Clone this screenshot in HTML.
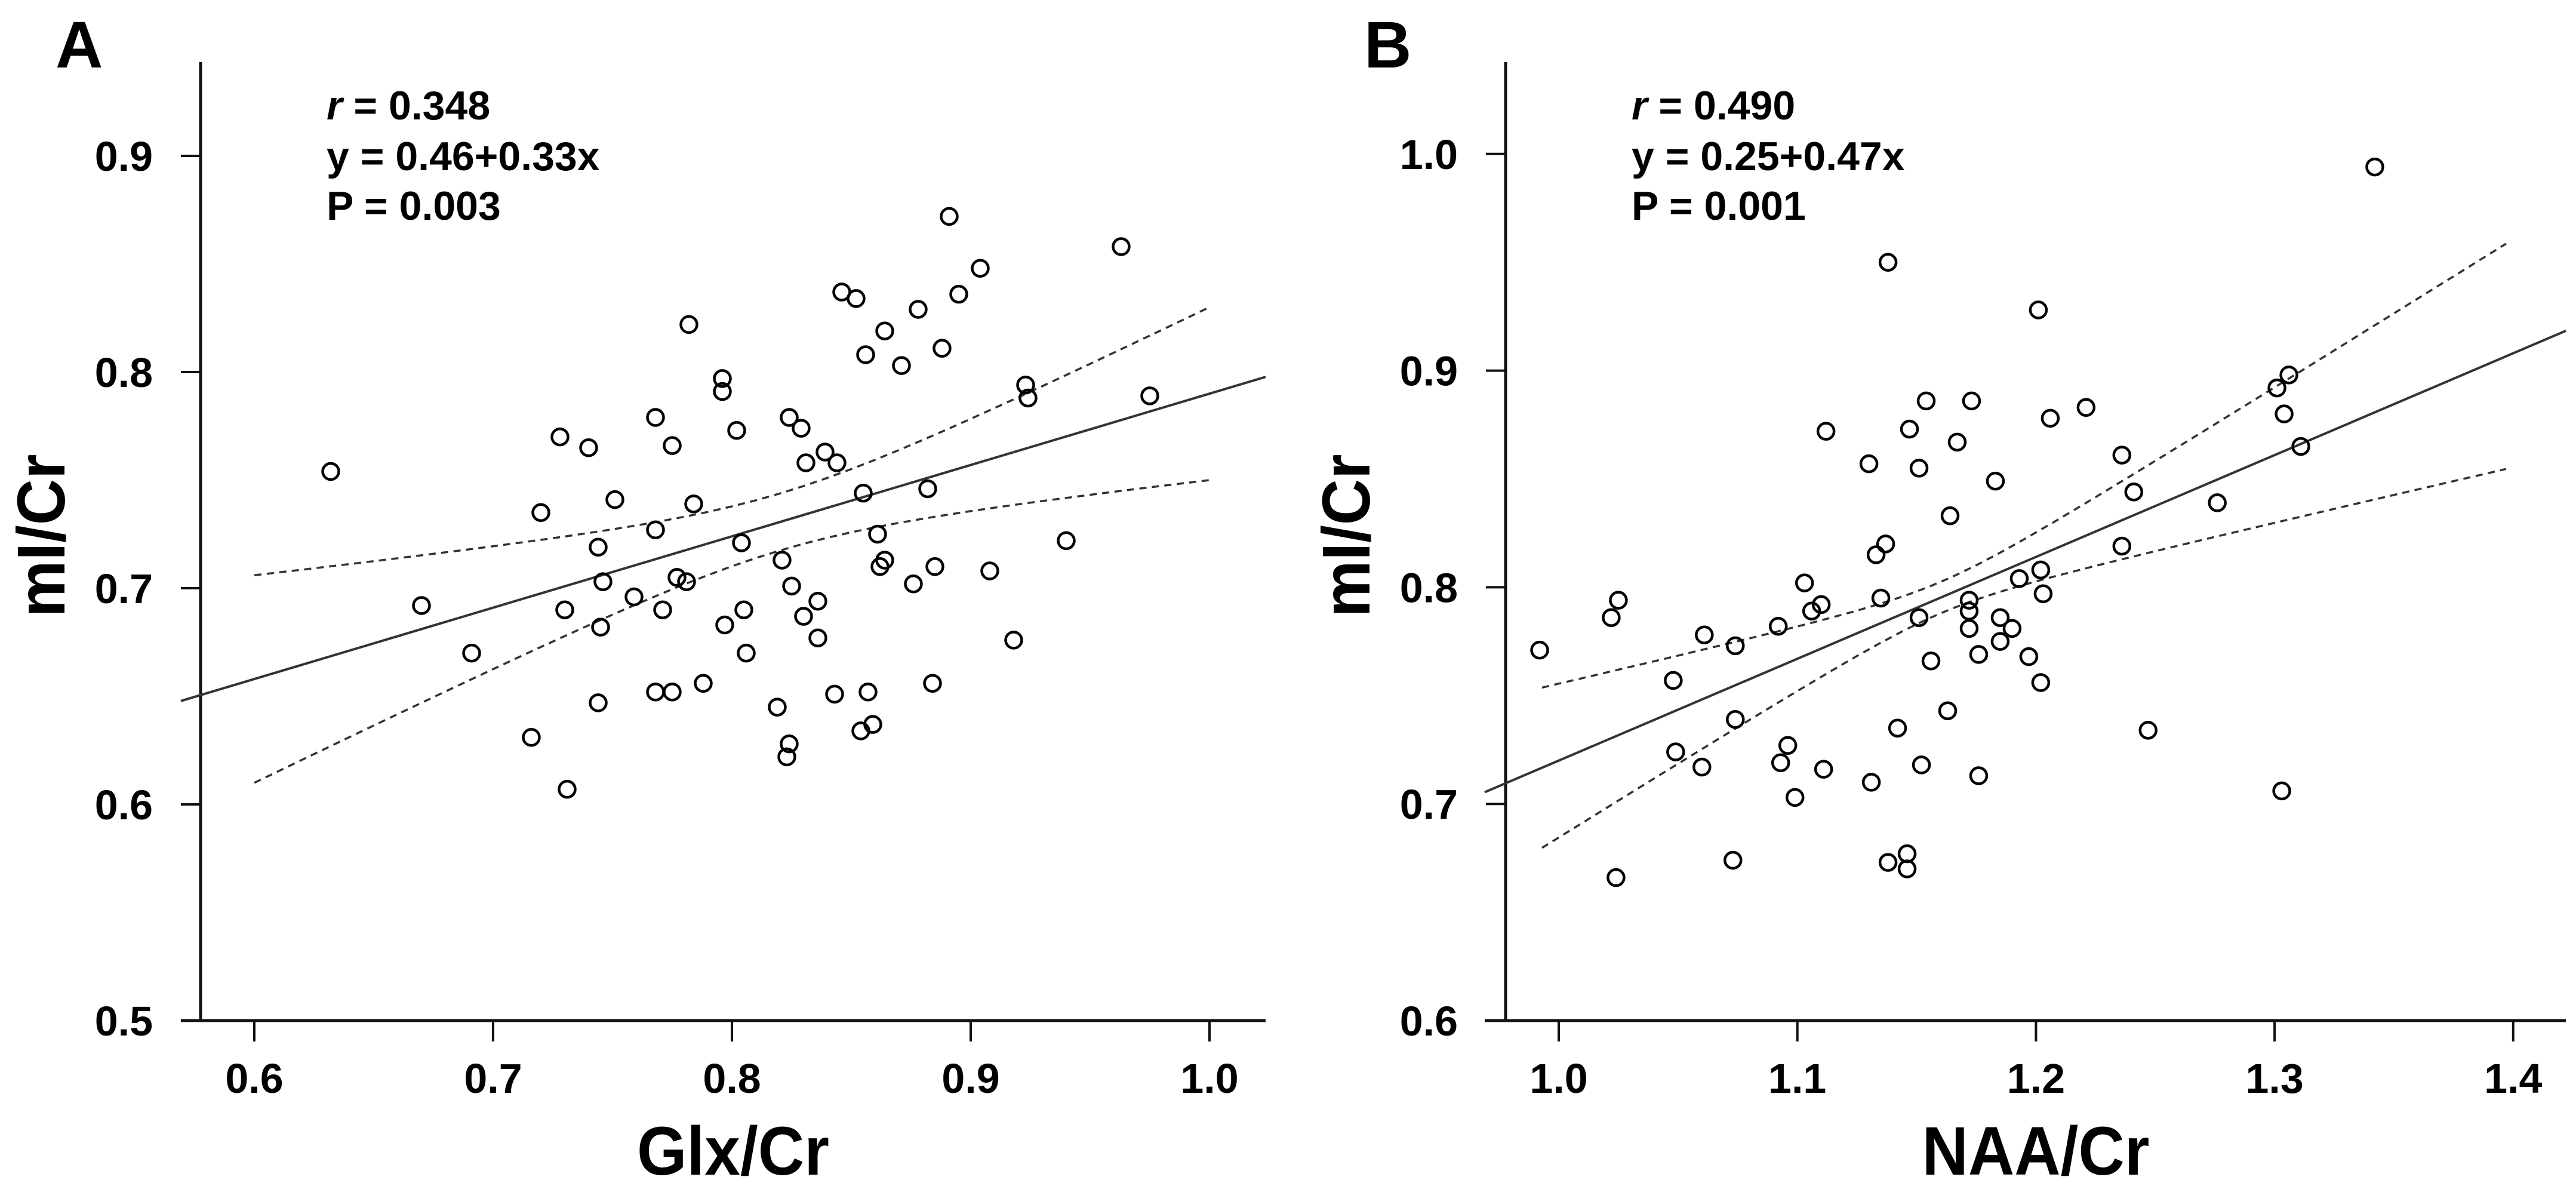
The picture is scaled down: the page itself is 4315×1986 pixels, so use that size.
<!DOCTYPE html>
<html><head><meta charset="utf-8"><style>
html,body{margin:0;padding:0;background:#fff;}
svg{display:block;}
text{font-family:"Liberation Sans",Arial,sans-serif;font-weight:bold;fill:#000;}
</style></head><body>
<svg id="fig" xmlns="http://www.w3.org/2000/svg" width="4315" height="1986" viewBox="0 0 4315 1986"></svg>
<script>
// Panel A data: Glx/Cr vs mI/Cr
const glxA = [0.632,0.670,0.691,0.716,0.720,0.728,0.730,0.731,0.740,0.744,0.746,0.745,0.744,0.751,0.759,0.768,0.768,0.768,0.771,0.775,0.775,0.777,0.781,0.782,0.784,0.788,0.796,0.796,0.797,0.802,0.804,0.805,0.806,0.819,0.821,0.823,0.824,0.824,0.825,0.829,0.830,0.831,0.836,0.836,0.839,0.843,0.844,0.846,0.852,0.854,0.855,0.856,0.857,0.859,0.861,0.862,0.864,0.864,0.871,0.876,0.878,0.882,0.884,0.885,0.888,0.891,0.895,0.904,0.908,0.918,0.923,0.924,0.940,0.963,0.975];
const miA = [0.754,0.692,0.670,0.631,0.735,0.770,0.690,0.607,0.765,0.719,0.703,0.682,0.647,0.741,0.696,0.779,0.727,0.652,0.690,0.766,0.652,0.705,0.703,0.822,0.739,0.656,0.797,0.791,0.683,0.773,0.721,0.690,0.670,0.645,0.713,0.622,0.779,0.628,0.701,0.774,0.687,0.758,0.694,0.677,0.763,0.651,0.758,0.837,0.834,0.634,0.744,0.808,0.652,0.637,0.725,0.710,0.713,0.819,0.803,0.702,0.829,0.746,0.656,0.710,0.811,0.872,0.836,0.848,0.708,0.676,0.794,0.788,0.722,0.858,0.789];
// Panel B data: NAA/Cr vs mI/Cr
const naaB = [0.992,1.022,1.025,1.024,1.048,1.049,1.060,1.061,1.073,1.074,1.074,1.092,1.093,1.096,1.099,1.103,1.106,1.110,1.111,1.112,1.130,1.131,1.133,1.137,1.135,1.138,1.138,1.142,1.146,1.146,1.147,1.151,1.151,1.152,1.154,1.156,1.163,1.164,1.167,1.172,1.172,1.172,1.173,1.176,1.176,1.183,1.185,1.185,1.190,1.193,1.197,1.201,1.202,1.202,1.203,1.206,1.221,1.236,1.236,1.241,1.247,1.276,1.301,1.306,1.304,1.303,1.311,1.342];
const miB = [0.771,0.786,0.794,0.666,0.757,0.724,0.717,0.778,0.674,0.773,0.739,0.782,0.719,0.727,0.703,0.802,0.789,0.792,0.716,0.872,0.857,0.710,0.815,0.820,0.795,0.950,0.673,0.735,0.677,0.670,0.873,0.855,0.786,0.718,0.886,0.766,0.743,0.833,0.867,0.794,0.789,0.781,0.886,0.769,0.713,0.849,0.786,0.775,0.781,0.804,0.768,0.928,0.808,0.756,0.797,0.878,0.883,0.861,0.819,0.844,0.734,0.839,0.892,0.898,0.880,0.706,0.865,0.994];
// tick labels
const xTicksA = ["0.6","0.7","0.8","0.9","1.0"];
const yTicksA = ["0.5","0.6","0.7","0.8","0.9"];
const xTicksB = ["1.0","1.1","1.2","1.3","1.4"];
const yTicksB = ["0.6","0.7","0.8","0.9","1.0"];
// regression fits (intercept, slope) and confidence band params
const fitA = [0.46, 0.33];
const fitB = [0.25, 0.47];
const ciA = [0.82, 0.000174, 0.044];   // centre x, a, b  (halfwidth = sqrt(a + b(x-c)^2))
const ciB = [1.16, 0.000052, 0.0472];
const ciRangeA = [0.6, 1.0];
const ciRangeB = [0.993, 1.397];
const statsA = ["0.348","y = 0.46+0.33x","P = 0.003"];
const statsB = ["0.490","y = 0.25+0.47x","P = 0.001"];

const NS="http://www.w3.org/2000/svg";
const svg=document.getElementById('fig');
function mk(tag,attrs,parent){const e=document.createElementNS(NS,tag);for(const k in attrs)e.setAttribute(k,attrs[k]);(parent||svg).appendChild(e);return e;}

function panel(cfg){
  const g=mk('g',{});
  
  
  const X=v=>cfg.x0px+(v-cfg.x0)*cfg.xs;
  const Y=v=>cfg.y0px-(v-cfg.y0)*cfg.ys;
  const xmin=cfg.x0+(cfg.xAxisL-cfg.x0px)/cfg.xs, xmax=cfg.x0+(cfg.xAxisR-cfg.x0px)/cfg.xs;
  // axes
  const ya=mk('line',{x1:cfg.yAxisX,y1:104,x2:cfg.yAxisX,y2:cfg.y0px,stroke:'#111','stroke-width':5},g);
  
  
  const xa=mk('line',{x1:cfg.xAxisL,y1:cfg.y0px,x2:cfg.xAxisR,y2:cfg.y0px,stroke:'#111','stroke-width':5},g);
  
  
  cfg.xt.forEach(t=>{const px=X(parseFloat(t));
    const tk=mk('line',{x1:px,y1:cfg.y0px,x2:px,y2:cfg.y0px+35,stroke:'#111','stroke-width':4},g);
    
    
    const tl=mk('text',{x:px,y:1830,'font-size':70,'text-anchor':'middle'},g);tl.textContent=t;
    
    
  });
  cfg.yt.forEach(t=>{const py=Y(parseFloat(t));
    const tk=mk('line',{x1:cfg.yAxisX-33,y1:py,x2:cfg.yAxisX,y2:py,stroke:'#111','stroke-width':4},g);
    
    
    const tl=mk('text',{x:cfg.yAxisX-80,y:py+25,'font-size':70,'text-anchor':'end'},g);tl.textContent=t;
    
    
  });
  // regression line
  const rl=mk('line',{x1:X(xmin),y1:Y(cfg.fit[0]+cfg.fit[1]*xmin),x2:X(xmax),y2:Y(cfg.fit[0]+cfg.fit[1]*xmax),stroke:'#333','stroke-width':4},g);
  
  
  // CI bands
  [1,-1].forEach(s=>{
    let d='';const n=40;
    for(let i=0;i<=n;i++){const xv=cfg.ciR[0]+(cfg.ciR[1]-cfg.ciR[0])*i/n;
      const yv=cfg.fit[0]+cfg.fit[1]*xv+s*Math.sqrt(cfg.ci[1]+cfg.ci[2]*(xv-cfg.ci[0])**2);
      d+=(i?'L':'M')+X(xv).toFixed(1)+','+Y(yv).toFixed(1);}
    const p=mk('path',{d:d,fill:'none',stroke:'#333','stroke-width':3.5,'stroke-dasharray':'12,9'},g);
    
    
  });
  // points
  cfg.xs_.forEach((xv,i)=>{
    const c=mk('circle',{cx:X(xv),cy:Y(cfg.ys_[i]),r:13.5,fill:'none',stroke:'#000','stroke-width':4.5},g);
    
    
  });
  // labels
  const L=mk('text',{x:cfg.letterX,y:113,'font-size':110},g);L.textContent=cfg.letter;
  
  
  const ax=cfg.yAxisX+211;
  const t1=mk('text',{x:ax,y:200,'font-size':68},g);
  
  
  const ti=mk('tspan',{'font-style':'italic'},t1);ti.textContent='r';
  const tr=mk('tspan',{},t1);tr.textContent=' = '+cfg.stats[0];
  const t2=mk('text',{x:ax,y:285,'font-size':68},g);t2.textContent=cfg.stats[1];
  
  
  const t3=mk('text',{x:ax,y:368,'font-size':68},g);t3.textContent=cfg.stats[2];
  
  
  const xt=mk('text',{x:(cfg.yAxisX+cfg.xAxisR)/2,y:1967,'font-size':115,'text-anchor':'middle',textLength:cfg.xTitleLen,lengthAdjust:'spacingAndGlyphs'},g);xt.textContent=cfg.xTitle;
  
  
  const yt=mk('text',{x:0,y:0,'font-size':113,'text-anchor':'middle',textLength:273,lengthAdjust:'spacingAndGlyphs',transform:'translate('+(cfg.yAxisX-228)+',897) rotate(-90)'},g);yt.textContent='mI/Cr';
  
  
}
panel({name:'panel-a',letter:'A',letterX:93,x0:0.6,x0px:426,xs:4000,y0:0.5,y0px:1709,ys:3620,yAxisX:336,xAxisL:303,xAxisR:2120,
  xt:xTicksA,yt:yTicksA,fit:fitA,ci:ciA,ciR:ciRangeA,xs_:glxA,ys_:miA,stats:statsA,xTitle:'Glx/Cr',xTitleLen:322});
panel({name:'panel-b',letter:'B',letterX:2285,x0:1.0,x0px:2611,xs:3997,y0:0.6,y0px:1709,ys:3628,yAxisX:2522,xAxisL:2487,xAxisR:4298,
  xt:xTicksB,yt:yTicksB,fit:fitB,ci:ciB,ciR:ciRangeB,xs_:naaB,ys_:miB,stats:statsB,xTitle:'NAA/Cr',xTitleLen:381});
</script>
</body></html>
